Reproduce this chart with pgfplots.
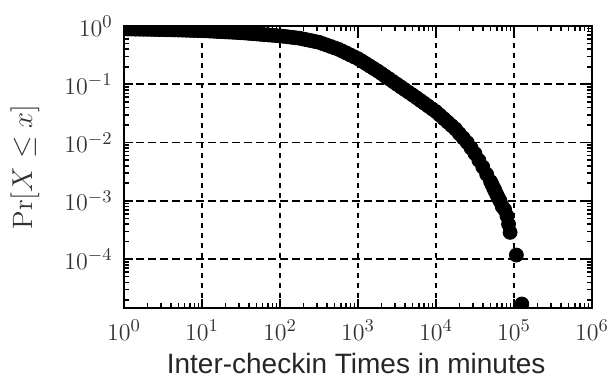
\documentclass[border=0pt]{standalone}
\usepackage{fontspec}
\newfontfamily\sansf{Liberation Sans}
\usepackage{pgfplots}
\pgfplotsset{compat=1.18}
\begin{document}
\begin{tikzpicture}
\begin{axis}[
  scale only axis,
  width=234pt, height=141pt,
  xmode=log, ymode=log,
  xmin=1, xmax=1000000,
  ymin=1.45e-5, ymax=1,
  xtick={1,10,100,1000,10000,100000,1000000},
  ytick={1e-4,1e-3,1e-2,1e-1,1},
  minor xtick={2,3,4,5,6,7,8,9,20,30,40,50,60,70,80,90,200,300,400,500,600,700,800,900,2000,3000,4000,5000,6000,7000,8000,9000,20000,30000,40000,50000,60000,70000,80000,90000,200000,300000,400000,500000,600000,700000,800000,900000},
  minor ytick={2e-5,3e-5,4e-5,5e-5,6e-5,7e-5,8e-5,9e-5,2e-4,3e-4,4e-4,5e-4,6e-4,7e-4,8e-4,9e-4,2e-3,3e-3,4e-3,5e-3,6e-3,7e-3,8e-3,9e-3,0.02,0.03,0.04,0.05,0.06,0.07,0.08,0.09,0.2,0.3,0.4,0.5,0.6,0.7,0.8,0.9},
  tick align=inside,
  tick pos=both,
  major tick length=4.5pt,
  minor tick length=2.5pt,
  tick style={black, line width=0.8pt},
  axis line style={black, line width=1.2pt},
  xmajorgrids=true, ymajorgrids=true,
  major x grid style={black, line width=0.8pt, dash pattern=on 2.5pt off 2.5pt},
  major y grid style={black, line width=0.8pt, dash pattern=on 4pt off 2pt},
  tick label style={font=\fontsize{13}{15}\selectfont, text=black!80, inner sep=0pt},
  xticklabel style={yshift=-6pt},
  yticklabel style={xshift=-5.5pt},
  xlabel={\sansf\fontsize{14}{16}\selectfont Inter-checkin Times in minutes},
  xlabel style={at={(axis description cs:0.496,-0.2305)}, anchor=base, inner sep=0pt, text=black!85},
  ylabel={\fontsize{14}{16}\selectfont $\Pr[X \leq x]$},
  ylabel style={at={(axis description cs:-0.18,0.5)}, anchor=south, inner sep=0pt, text=black!80},
  clip marker paths=true,
]
\coordinate (bl) at (rel axis cs:0,0);
\coordinate (tr) at (rel axis cs:1,1);
\addplot[only marks, mark=*, mark size=3.5pt, black, mark options={fill=black}] coordinates {
(1,0.891) (1.122,0.889) (1.259,0.887) (1.413,0.883) (1.585,0.881) (1.778,0.879) (1.995,0.877) (2.239,0.875) (2.512,0.871) (2.818,0.869)
(3.162,0.867) (3.548,0.863) (3.981,0.859) (4.467,0.857) (5.012,0.853) (5.623,0.849) (6.310,0.845) (7.079,0.841) (7.943,0.838) (8.913,0.836)
(10,0.832) (11.22,0.826) (12.59,0.818) (14.13,0.813) (15.85,0.805) (17.78,0.800) (19.95,0.792) (22.39,0.787) (25.12,0.780) (28.18,0.774)
(31.62,0.767) (35.48,0.759) (39.81,0.748) (44.67,0.740) (50.12,0.730) (56.23,0.721) (63.10,0.711) (70.79,0.703) (79.43,0.693) (89.13,0.685)
(100,0.676) (112.2,0.664) (125.9,0.652) (141.3,0.640) (158.5,0.628) (177.8,0.617) (199.5,0.597) (223.9,0.578) (251.2,0.560) (281.8,0.542)
(316.2,0.525) (354.8,0.497) (398.1,0.470) (446.7,0.445) (501.2,0.421) (562.3,0.398) (631.0,0.370) (707.9,0.344) (794.3,0.319) (891.3,0.296)
(1000,0.275) (1122,0.250) (1259,0.227) (1413,0.206) (1585,0.187) (1778,0.170) (1995,0.153) (2239,0.137) (2512,0.124) (2818,0.111)
(3162,0.100) (3548,0.0899) (3981,0.0809) (4467,0.0728) (5012,0.0655) (5623,0.0589) (6310,0.0527) (7079,0.0472) (7943,0.0423) (8913,0.0378)
(10000,0.0339) (11220,0.0295) (12590,0.0257) (14130,0.0224) (15850,0.0195) (17780,0.0170) (19950,0.01422) (22390,0.01194) (25120,0.0100) (28180,0.00804)
(31620,0.00646) (35480,0.00495) (39810,0.00380) (44670,0.00285) (50120,0.00214) (52480,0.00188) (54950,0.001652) (56230,0.00155) (57540,0.001452) (60260,0.00127)
(63100,0.00112) (66070,0.00100) (70790,0.000794) (75860,0.000708) (81280,0.000550) (85110,0.000398) (89130,0.000288)
(107200,0.0001175) (125900,0.0000170)
};
\end{axis}
\pgfresetboundingbox
\path[use as bounding box] ([shift={(-62pt,-35pt)}]bl) rectangle ([shift={(11pt,13pt)}]tr);
\end{tikzpicture}
\end{document}
